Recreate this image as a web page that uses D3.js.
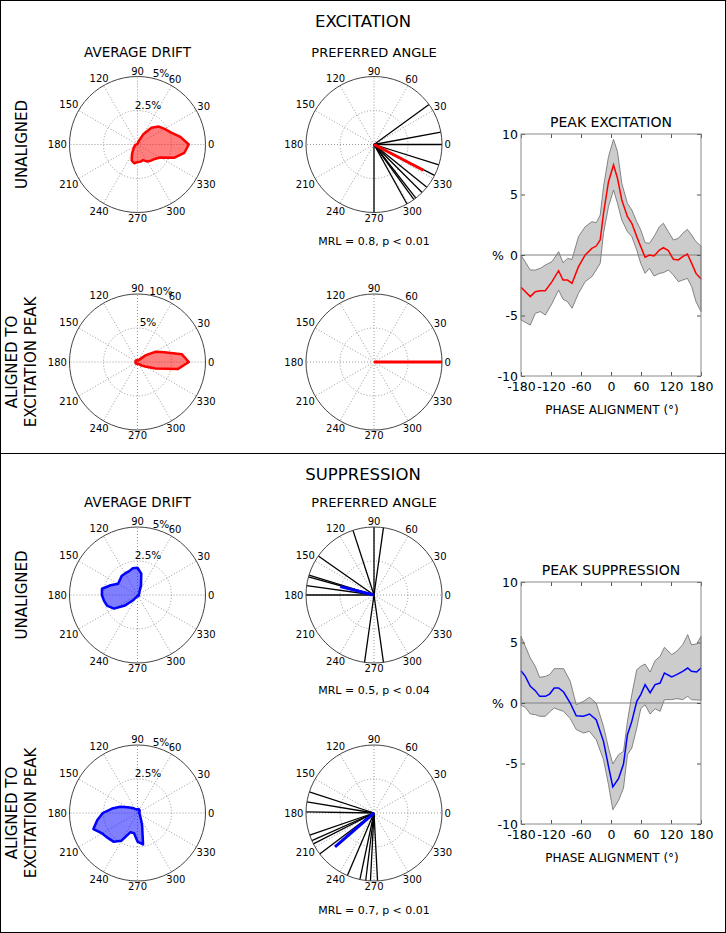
<!DOCTYPE html>
<html lang="en">
<head>
<meta charset="utf-8">
<title>Excitation / suppression drift</title>
<script src="https://cdn.jsdelivr.net/npm/d3@7"></script>
<style>
body { margin: 0; background: #fff; }
text { font-family: "DejaVu Sans", sans-serif; fill: #000; }
</style>
</head>
<body>
<div id="drawing"></div>
<script>

// average drift, % per 10 degree bin (0 = east, counter clockwise)
var driftAngles = [0,10,20,30,40,50,60,70,80,90,100,110,120,130,140,150,160,170,180,190,200,210,220,230,240,250,260,270,280,290,300,310,320,330,340,350];
var driftExcUnaligned = [3.77,3.2,2.6,2.3,2.05,1.6,0.9,0.25,0.05,0.05,0.05,0.05,0.05,0.05,0.05,0.05,0.05,0.08,0.1,0.15,0.2,0.25,0.35,0.5,0.8,1.25,1.4,1.3,1.28,1.22,1.45,1.55,1.65,1.92,2.85,3.5];
var driftExcAligned = [7.55,6.6,4.2,3.0,1.5,0.5,0.3,0.3,0.3,0.3,0.3,0.3,0.3,0.3,0.3,0.3,0.3,0.3,0.3,0.3,0.3,0.3,0.3,0.3,0.3,0.3,0.3,0.3,0.3,0.3,0.3,0.5,0.8,1.3,2.8,6.0];
var driftSupUnaligned = [0.1,0.1,0.1,0.1,0.15,0.2,0.3,0.75,1.6,2.0,2.0,1.85,1.83,1.82,1.7,1.65,2.1,2.65,2.62,2.5,2.35,2.0,1.2,0.5,0.2,0.1,0.1,0.1,0.1,0.1,0.1,0.1,0.1,0.1,0.1,0.1];
var driftSupAligned = [0.15,0.15,0.15,0.15,0.2,0.25,0.25,0.3,0.3,0.25,0.25,0.3,0.35,0.45,0.6,0.85,1.35,1.9,2.55,3.0,3.45,3.0,2.85,2.75,2.35,1.5,1.5,2.1,2.35,1.0,0.5,0.3,0.25,0.2,0.15,0.15];

// preferred angles of single units (degrees)
var prefExcUnaligned = [36,10.5,0,342.5,333,321,315,308,306,299,270];
var prefExcAligned = [0,0,0,0,0,0,0,0,0,0,0];
var prefSupUnaligned = [82,90,108,145,163,164.5,172,180,262,278];
var prefSupAligned = [162,170.5,179,199,204,207,217,247,258,263,267,273];

// mean resultant vectors
var meanAngle = [332.5, 0, 166, 221];
var meanLength = [0.82, 1.0, 0.51, 0.76];
var mrlLabels = ["MRL = 0.8, p < 0.01", "MRL = 0.5, p < 0.04", "MRL = 0.7, p < 0.01"];

// peak excitation (phase in degrees, values in %)
var excPhase = [-180,-161.4,-151.4,-141.4,-131.4,-118,-104.8,-96,-87,-78,-65,-51.6,-38.3,-29.6,-21.6,-15,-5,5,13,21.6,32.9,41.6,51.5,59.5,68.2,76.8,86.1,96.8,104.8,114.7,124.7,134.7,143.4,152.7,161.4,170,180];
var excMean = [-2.67,-3.44,-3.03,-2.95,-2.95,-2.2,-1.3,-2.07,-2.07,-2.34,-0.96,0,0.55,0.74,1.24,3.44,6.06,7.44,6.34,4.55,3.17,2.62,1.52,0.69,-0.19,0,-0.08,0.41,0.6,0.36,-0.36,-0.41,-0.14,0.08,-0.69,-1.52,-1.98];
var excUpper = [0,-1.24,-1.24,-1.1,-0.83,-0.55,0.28,-0.63,-0.28,-0.36,1.52,2.34,2.75,2.67,3.3,5.65,8.13,9.56,8.54,5.92,4.27,3.72,2.75,2.07,1.02,0.96,1.52,2.34,2.62,1.93,1.24,1.38,1.79,2.12,1.65,1.1,0.74];
var excLower = [-5.37,-5.79,-4.82,-4.68,-4.96,-4.0,-2.9,-3.66,-3.86,-4.4,-3.17,-2.2,-1.79,-1.24,-0.69,1.79,4.0,5.37,4.27,2.89,1.93,1.52,0.41,-0.69,-1.52,-1.1,-1.74,-1.52,-1.46,-1.24,-1.65,-2.2,-2.07,-1.93,-2.62,-3.86,-4.68];

// peak suppression
var supPhase = [-180,-171.3,-161.4,-151.4,-142.7,-131.4,-122.8,-113.5,-104.8,-94.8,-81.5,-69.5,-55,-43,-29.6,-15,-5,3.6,15,25,32.9,41.6,51.5,59.5,68.2,78.2,88.2,98.2,106.8,121.5,131.4,143.4,153.4,160.9,171.3,180];
var supMean = [2.67,2.2,1.38,1.02,0.55,0.55,0.74,1.24,1.24,0.91,0,-1.05,-1.1,-0.91,-1.38,-3.17,-5.23,-6.94,-6.25,-5.04,-2.62,-1.52,0.14,0.69,1.52,0.85,1.52,1.65,2.48,2.15,2.34,2.62,2.89,2.62,2.56,2.89];
var supUpper = [5.51,4.68,3.72,3.03,2.12,2.2,2.34,2.84,2.84,2.84,1.79,-0.14,0.14,0.47,0,-1.93,-3.72,-5.04,-4.27,-4.0,-1.52,0.69,2.75,3.03,3.22,2.56,3.5,3.86,4.6,4.0,4.27,4.82,5.65,4.82,4.88,5.51];
var supLower = [-0.19,-0.36,-0.91,-0.96,-1.1,-1.1,-0.74,-0.41,-0.55,-0.69,-1.29,-2.2,-2.48,-2.34,-3.03,-4.68,-6.75,-8.82,-8.07,-7.02,-4.27,-3.72,-2.07,-0.47,-0.14,-0.91,-0.47,-0.69,0.28,0.28,0.36,0.28,0.55,0.28,0.25,0.22];

var polarTicks = [0,30,60,90,120,150,180,210,240,270,300,330];
var phaseTicks = [-180,-120,-60,0,60,120,180];
var pctTicks = [-10,-5,0,5,10];

var W = 726, H = 933, R = 68;
var colX = [137.5, 374];
var rowY = [144.5, 362, 595, 813];

var svg = d3.select('#drawing').append('svg').attr('width', W).attr('height', H);
svg.append('rect').attr('x', 0).attr('y', 0).attr('width', W).attr('height', H).attr('fill', '#fff');

function rad(a) { return a * Math.PI / 180; }

function drawPolarFrame(cx, cy) {
	var g = svg.append('g').attr('transform', 'translate(' + cx + ',' + cy + ')');
	g.append('circle').attr('r', R / 2).attr('fill', 'none')
		.attr('stroke', '#999').attr('stroke-width', 1).attr('stroke-dasharray', '1,2');
	polarTicks.forEach(function(a) {
		g.append('line').attr('x1', 0).attr('y1', 0)
			.attr('x2', R * Math.cos(rad(a))).attr('y2', -R * Math.sin(rad(a)))
			.attr('stroke', '#999').attr('stroke-width', 1).attr('stroke-dasharray', '1,2');
	});
	return g;
}

function finishPolarFrame(g) {
	g.append('circle').attr('r', R).attr('fill', 'none').attr('stroke', '#444').attr('stroke-width', 1);
	polarTicks.forEach(function(a) {
		var w = String(a).length * 6.4;
		var L = R + 5.5 + Math.abs(Math.cos(rad(a))) * (w / 2 - 3);
		g.append('text').attr('x', L * Math.cos(rad(a))).attr('y', -L * Math.sin(rad(a)))
			.attr('text-anchor', 'middle').attr('dominant-baseline', 'central')
			.attr('font-size', 10).text(a);
	});
}

function drawDrift(cx, cy, values, maxPct, rLabels, stroke, fill) {
	var g = drawPolarFrame(cx, cy);
	var r = d3.scaleLinear().domain([0, maxPct]).range([0, R]);
	var pts = driftAngles.map(function(a, i) { return [a, values[i]]; });
	var line = d3.lineRadial()
		.angle(function(d) { return rad(90 - d[0]); })
		.radius(function(d) { return r(d[1]); })
		.curve(d3.curveLinearClosed);
	g.append('path').attr('d', line(pts)).attr('fill', fill).attr('fill-opacity', 0.5)
		.attr('stroke', stroke).attr('stroke-width', 2.5).attr('stroke-linejoin', 'round');
	finishPolarFrame(g);
	[maxPct / 2, maxPct].forEach(function(v, i) {
		g.append('text')
			.attr('x', r(v) * Math.cos(rad(67.5)) - 2.5)
			.attr('y', -r(v) * Math.sin(rad(67.5)) - 8.5)
			.attr('text-anchor', 'middle').attr('dominant-baseline', 'central')
			.attr('font-size', 10.5).text(rLabels[i]);
	});
}

function drawPref(cx, cy, angles, mAngle, mLen, color) {
	var g = drawPolarFrame(cx, cy);
	angles.forEach(function(a) {
		g.append('line').attr('x1', 0).attr('y1', 0)
			.attr('x2', R * Math.cos(rad(a))).attr('y2', -R * Math.sin(rad(a)))
			.attr('stroke', '#000').attr('stroke-width', 1.3);
	});
	g.append('line').attr('x1', 0).attr('y1', 0)
		.attr('x2', mLen * R * Math.cos(rad(mAngle))).attr('y2', -mLen * R * Math.sin(rad(mAngle)))
		.attr('stroke', color).attr('stroke-width', 3);
	finishPolarFrame(g);
}

function drawLineChart(top, title, phase, mean, upper, lower, color) {
	var x = d3.scaleLinear().domain([-180, 180]).range([521, 701]);
	var y = d3.scaleLinear().domain([-10, 10]).range([top + 242, top]);
	var idx = d3.range(phase.length);
	var area = d3.area()
		.x(function(i) { return x(phase[i]); })
		.y0(function(i) { return y(lower[i]); })
		.y1(function(i) { return y(upper[i]); });
	svg.append('path').attr('d', area(idx)).attr('fill', '#cccccc').attr('stroke', '#6a6a6a').attr('stroke-width', 0.8);
	svg.append('line').attr('x1', x(-180)).attr('x2', x(180)).attr('y1', y(0)).attr('y2', y(0))
		.attr('stroke', '#808080').attr('stroke-width', 1.2);
	var line = d3.line()
		.x(function(i) { return x(phase[i]); })
		.y(function(i) { return y(mean[i]); });
	svg.append('path').attr('d', line(idx)).attr('fill', 'none').attr('stroke', color).attr('stroke-width', 1.5);

	var fmt = function(d) { return String(d); };
	var ax = svg.append('g').attr('transform', 'translate(0,' + y(-10) + ')')
		.call(d3.axisBottom(x).tickValues(phaseTicks).tickFormat(fmt).tickSizeInner(-4).tickSizeOuter(0).tickPadding(6));
	svg.append('g').attr('transform', 'translate(0,' + y(10) + ')')
		.call(d3.axisTop(x).tickValues(phaseTicks).tickFormat('').tickSizeInner(-4).tickSizeOuter(0));
	var ay = svg.append('g').attr('transform', 'translate(' + x(-180) + ',0)')
		.call(d3.axisLeft(y).tickValues(pctTicks).tickFormat(fmt).tickSizeInner(-4).tickSizeOuter(0).tickPadding(3));
	svg.append('g').attr('transform', 'translate(' + x(180) + ',0)')
		.call(d3.axisRight(y).tickValues(pctTicks).tickFormat('').tickSizeInner(-4).tickSizeOuter(0));
	svg.selectAll('.domain').remove();
	svg.selectAll('.tick line').attr('stroke', '#555');
	ax.selectAll('text').attr('font-size', 12.5).attr('font-family', 'DejaVu Sans').attr('fill', '#000');
	ay.selectAll('text').attr('font-size', 12.5).attr('font-family', 'DejaVu Sans').attr('fill', '#000');

	svg.append('rect').attr('x', x(-180)).attr('y', y(10)).attr('width', x(180) - x(-180)).attr('height', y(-10) - y(10))
		.attr('fill', 'none').attr('stroke', '#8a8a8a').attr('stroke-width', 1);

	svg.append('text').attr('x', 611).attr('y', top - 7).attr('text-anchor', 'middle').attr('font-size', 14).text(title);
	svg.append('text').attr('x', 498).attr('y', y(0)).attr('text-anchor', 'middle').attr('dominant-baseline', 'central')
		.attr('font-size', 12.5).text('%');
	svg.append('text').attr('x', 612).attr('y', top + 280).attr('text-anchor', 'middle').attr('font-size', 12).text('PHASE ALIGNMENT (°)');
}

function rowLabel(lines, cy) {
	lines.forEach(function(t, i) {
		var lx = lines.length === 1 ? 22 : 12 + i * 18.5;
		svg.append('text').attr('transform', 'translate(' + lx + ',' + cy + ') rotate(-90)')
			.attr('text-anchor', 'middle').attr('dominant-baseline', 'central')
			.attr('font-size', 15).text(t);
	});
}

// frame
svg.append('rect').attr('x', 0.5).attr('y', 0.5).attr('width', W - 1).attr('height', H - 1)
	.attr('fill', 'none').attr('stroke', '#000').attr('stroke-width', 1);
svg.append('line').attr('x1', 0).attr('x2', W).attr('y1', 453.5).attr('y2', 453.5).attr('stroke', '#000').attr('stroke-width', 1);

// section titles
svg.append('text').attr('x', 363).attr('y', 27).attr('text-anchor', 'middle').attr('font-size', 16.5).text('EXCITATION');
svg.append('text').attr('x', 363).attr('y', 480).attr('text-anchor', 'middle').attr('font-size', 16.5).text('SUPPRESSION');

[57, 507].forEach(function(ty) {
	svg.append('text').attr('x', colX[0]).attr('y', ty).attr('text-anchor', 'middle').attr('font-size', 13.5).text('AVERAGE DRIFT');
	svg.append('text').attr('x', colX[1]).attr('y', ty).attr('text-anchor', 'middle').attr('font-size', 13).text('PREFERRED ANGLE');
});

rowLabel(['UNALIGNED'], rowY[0]);
rowLabel(['ALIGNED TO', 'EXCITATION PEAK'], rowY[1]);
rowLabel(['UNALIGNED'], rowY[2]);
rowLabel(['ALIGNED TO', 'EXCITATION PEAK'], rowY[3]);

drawDrift(colX[0], rowY[0], driftExcUnaligned, 5, ['2.5%', '5%'], '#ff0000', '#ff0000');
drawDrift(colX[0], rowY[1], driftExcAligned, 10, ['5%', '10%'], '#ff0000', '#ff0000');
drawDrift(colX[0], rowY[2], driftSupUnaligned, 5, ['2.5%', '5%'], '#0000ff', '#0000ff');
drawDrift(colX[0], rowY[3], driftSupAligned, 5, ['2.5%', '5%'], '#0000ff', '#0000ff');

drawPref(colX[1], rowY[0], prefExcUnaligned, meanAngle[0], meanLength[0], '#ff0000');
drawPref(colX[1], rowY[1], prefExcAligned, meanAngle[1], meanLength[1], '#ff0000');
drawPref(colX[1], rowY[2], prefSupUnaligned, meanAngle[2], meanLength[2], '#0000ff');
drawPref(colX[1], rowY[3], prefSupAligned, meanAngle[3], meanLength[3], '#0000ff');

[245, 694, 914].forEach(function(ty, i) {
	svg.append('text').attr('x', colX[1]).attr('y', ty).attr('text-anchor', 'middle').attr('font-size', 11).text(mrlLabels[i]);
});

drawLineChart(134, 'PEAK EXCITATION', excPhase, excMean, excUpper, excLower, '#ff0000');
drawLineChart(582, 'PEAK SUPPRESSION', supPhase, supMean, supUpper, supLower, '#0000ff');

</script>
</body>
</html>
